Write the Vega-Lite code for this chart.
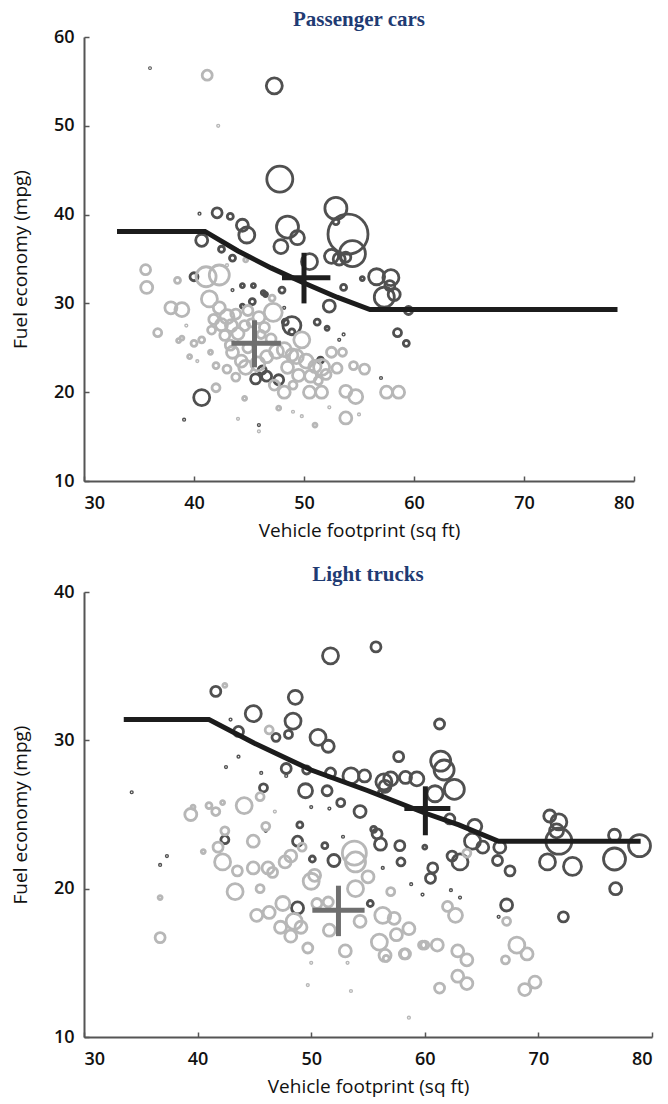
{
  "$schema": "https://vega.github.io/schema/vega-lite/v6.json",
  "background": "white",
  "padding": {"left": 11, "top": 9, "right": 4, "bottom": 4},
  "spacing": 24,
  "config": {
    "view": {"stroke": null},
    "axis": {
      "grid": false,
      "domainColor": "#555555",
      "domainWidth": 2,
      "tickColor": "#555555",
      "tickWidth": 1.5,
      "tickSize": -5,
      "labelFont": "Open Sans",
      "labelFontSize": 18,
      "labelFontWeight": 600,
      "labelColor": "#111111",
      "titleFont": "Open Sans",
      "titleFontSize": 19,
      "titleFontWeight": "normal",
      "titleColor": "#111111"
    },
    "axisX": {"labelPadding": 18, "titlePadding": 9},
    "axisY": {"labelPadding": 15, "titlePadding": 23},
    "title": {"font": "Liberation Serif", "fontSize": 21, "fontWeight": "bold", "color": "#1f3b73", "offset": -2}
  },
  "datasets": {
    "cars": [
      {"x":36.0,"y":56.5,"sales":0.3,"grp":"D"},{"x":47.3,"y":54.5,"sales":64,"grp":"D"},{"x":47.8,"y":44.0,"sales":169,"grp":"D"},
      {"x":42.1,"y":40.2,"sales":25,"grp":"D"},{"x":43.3,"y":39.8,"sales":9,"grp":"D"},{"x":40.5,"y":40.1,"sales":0.5,"grp":"D"},
      {"x":44.4,"y":38.8,"sales":36,"grp":"D"},{"x":44.8,"y":37.7,"sales":64,"grp":"D"},{"x":40.7,"y":37.1,"sales":36,"grp":"D"},
      {"x":42.5,"y":36.1,"sales":9,"grp":"D"},{"x":43.5,"y":35.1,"sales":9,"grp":"D"},{"x":48.5,"y":38.6,"sales":121,"grp":"D"},
      {"x":49.4,"y":37.4,"sales":49,"grp":"D"},{"x":47.9,"y":36.4,"sales":49,"grp":"D"},{"x":50.5,"y":34.7,"sales":64,"grp":"D"},
      {"x":40.0,"y":33.0,"sales":16,"grp":"D"},{"x":43.5,"y":31.5,"sales":0.5,"grp":"D"},{"x":44.4,"y":32.0,"sales":4,"grp":"D"},
      {"x":44.4,"y":29.7,"sales":4,"grp":"D"},{"x":45.4,"y":32.0,"sales":4,"grp":"D"},{"x":46.3,"y":31.2,"sales":4,"grp":"D"},
      {"x":45.3,"y":30.2,"sales":9,"grp":"D"},{"x":48.0,"y":31.5,"sales":9,"grp":"D"},{"x":46.5,"y":31.0,"sales":4,"grp":"D"},
      {"x":48.2,"y":29.5,"sales":0.5,"grp":"D"},{"x":48.9,"y":27.5,"sales":81,"grp":"D"},{"x":48.3,"y":27.9,"sales":9,"grp":"D"},
      {"x":48.9,"y":26.8,"sales":9,"grp":"D"},{"x":52.3,"y":29.7,"sales":36,"grp":"D"},{"x":51.2,"y":27.9,"sales":9,"grp":"D"},
      {"x":52.1,"y":27.2,"sales":4,"grp":"D"},{"x":53.2,"y":25.9,"sales":0.5,"grp":"D"},{"x":53.6,"y":26.5,"sales":0.5,"grp":"D"},
      {"x":58.5,"y":26.7,"sales":16,"grp":"D"},{"x":59.3,"y":25.5,"sales":9,"grp":"D"},{"x":59.5,"y":29.2,"sales":16,"grp":"D"},
      {"x":57.0,"y":21.6,"sales":0.5,"grp":"D"},{"x":40.7,"y":19.4,"sales":64,"grp":"D"},{"x":39.1,"y":16.9,"sales":0.5,"grp":"D"},
      {"x":45.9,"y":16.3,"sales":0.5,"grp":"D"},{"x":45.6,"y":21.5,"sales":25,"grp":"D"},{"x":46.6,"y":21.8,"sales":25,"grp":"D"},
      {"x":47.7,"y":21.4,"sales":25,"grp":"D"},{"x":51.5,"y":23.6,"sales":9,"grp":"D"},{"x":52.9,"y":40.7,"sales":121,"grp":"D"},
      {"x":52.9,"y":39.2,"sales":9,"grp":"D"},{"x":54.0,"y":37.8,"sales":400,"grp":"D"},{"x":54.4,"y":35.6,"sales":169,"grp":"D"},
      {"x":52.5,"y":35.3,"sales":49,"grp":"D"},{"x":53.2,"y":35.0,"sales":36,"grp":"D"},{"x":53.8,"y":35.2,"sales":25,"grp":"D"},
      {"x":56.6,"y":33.0,"sales":64,"grp":"D"},{"x":57.9,"y":32.9,"sales":64,"grp":"D"},{"x":57.8,"y":32.0,"sales":25,"grp":"D"},
      {"x":57.3,"y":30.7,"sales":100,"grp":"D"},{"x":58.2,"y":31.0,"sales":36,"grp":"D"},{"x":53.6,"y":31.8,"sales":9,"grp":"D"},
      {"x":55.3,"y":32.8,"sales":4,"grp":"D"},{"x":46.2,"y":22.5,"sales":16,"grp":"D"},
      {"x":41.2,"y":55.7,"sales":25,"grp":"L"},{"x":42.2,"y":50.0,"sales":0.5,"grp":"L"},{"x":35.6,"y":33.8,"sales":25,"grp":"L"},
      {"x":35.7,"y":31.8,"sales":36,"grp":"L"},{"x":38.5,"y":32.6,"sales":9,"grp":"L"},{"x":41.1,"y":33.0,"sales":100,"grp":"L"},
      {"x":42.3,"y":33.2,"sales":100,"grp":"L"},{"x":37.9,"y":29.5,"sales":36,"grp":"L"},{"x":38.9,"y":29.3,"sales":49,"grp":"L"},
      {"x":41.4,"y":30.5,"sales":64,"grp":"L"},{"x":36.7,"y":26.7,"sales":16,"grp":"L"},{"x":47.1,"y":30.6,"sales":9,"grp":"L"},
      {"x":47.2,"y":29.0,"sales":81,"grp":"L"},{"x":42.3,"y":29.5,"sales":36,"grp":"L"},{"x":43.0,"y":28.5,"sales":49,"grp":"L"},
      {"x":42.5,"y":27.6,"sales":36,"grp":"L"},{"x":43.4,"y":27.5,"sales":36,"grp":"L"},{"x":41.8,"y":28.2,"sales":25,"grp":"L"},
      {"x":43.8,"y":28.8,"sales":25,"grp":"L"},{"x":41.6,"y":27.0,"sales":16,"grp":"L"},{"x":42.8,"y":26.4,"sales":25,"grp":"L"},
      {"x":44.0,"y":26.6,"sales":36,"grp":"L"},{"x":44.6,"y":27.5,"sales":25,"grp":"L"},{"x":43.3,"y":25.3,"sales":25,"grp":"L"},
      {"x":40.7,"y":25.9,"sales":9,"grp":"L"},{"x":38.9,"y":26.1,"sales":4,"grp":"L"},{"x":40.0,"y":25.5,"sales":9,"grp":"L"},
      {"x":41.5,"y":24.5,"sales":4,"grp":"L"},{"x":40.3,"y":23.5,"sales":0.5,"grp":"L"},{"x":39.6,"y":24.0,"sales":4,"grp":"L"},
      {"x":43.5,"y":24.5,"sales":36,"grp":"L"},{"x":44.3,"y":23.5,"sales":36,"grp":"L"},{"x":43.8,"y":21.7,"sales":16,"grp":"L"},
      {"x":44.7,"y":22.8,"sales":49,"grp":"L"},{"x":45.8,"y":23.2,"sales":49,"grp":"L"},{"x":42.0,"y":20.5,"sales":16,"grp":"L"},
      {"x":46.6,"y":24.0,"sales":36,"grp":"L"},{"x":47.5,"y":24.6,"sales":49,"grp":"L"},{"x":48.2,"y":24.8,"sales":49,"grp":"L"},
      {"x":48.9,"y":24.2,"sales":36,"grp":"L"},{"x":49.8,"y":25.9,"sales":64,"grp":"L"},{"x":49.3,"y":24.0,"sales":49,"grp":"L"},
      {"x":50.2,"y":23.5,"sales":49,"grp":"L"},{"x":51.0,"y":22.9,"sales":36,"grp":"L"},{"x":51.6,"y":22.8,"sales":64,"grp":"L"},
      {"x":50.6,"y":21.8,"sales":36,"grp":"L"},{"x":52.0,"y":22.0,"sales":25,"grp":"L"},{"x":48.5,"y":22.8,"sales":36,"grp":"L"},
      {"x":49.5,"y":21.9,"sales":36,"grp":"L"},{"x":47.3,"y":20.8,"sales":25,"grp":"L"},{"x":46.1,"y":26.5,"sales":16,"grp":"L"},
      {"x":47.0,"y":26.0,"sales":25,"grp":"L"},{"x":45.2,"y":27.8,"sales":16,"grp":"L"},{"x":48.2,"y":20.0,"sales":36,"grp":"L"},
      {"x":50.5,"y":20.0,"sales":36,"grp":"L"},{"x":51.6,"y":20.0,"sales":36,"grp":"L"},{"x":53.8,"y":20.1,"sales":36,"grp":"L"},
      {"x":54.7,"y":19.5,"sales":49,"grp":"L"},{"x":57.5,"y":20.0,"sales":36,"grp":"L"},{"x":58.6,"y":20.0,"sales":36,"grp":"L"},
      {"x":52.5,"y":24.5,"sales":25,"grp":"L"},{"x":53.5,"y":24.5,"sales":16,"grp":"L"},{"x":54.5,"y":23.0,"sales":16,"grp":"L"},
      {"x":55.5,"y":22.6,"sales":25,"grp":"L"},{"x":53.0,"y":22.7,"sales":25,"grp":"L"},{"x":47.7,"y":18.2,"sales":4,"grp":"L"},
      {"x":49.0,"y":17.8,"sales":0.5,"grp":"L"},{"x":49.8,"y":17.3,"sales":0.5,"grp":"L"},{"x":53.8,"y":17.1,"sales":36,"grp":"L"},
      {"x":51.0,"y":16.3,"sales":4,"grp":"L"},{"x":52.3,"y":18.3,"sales":0.5,"grp":"L"},{"x":55.0,"y":17.5,"sales":0.5,"grp":"L"},
      {"x":45.9,"y":15.6,"sales":0.5,"grp":"L"},{"x":44.0,"y":17.0,"sales":0.5,"grp":"L"},{"x":38.6,"y":25.8,"sales":4,"grp":"L"},
      {"x":44.7,"y":34.9,"sales":4,"grp":"L"},{"x":43.0,"y":34.3,"sales":0.5,"grp":"L"},{"x":39.3,"y":27.5,"sales":0.5,"grp":"L"},
      {"x":44.9,"y":29.2,"sales":25,"grp":"L"},{"x":45.9,"y":28.4,"sales":36,"grp":"L"},{"x":46.4,"y":27.3,"sales":25,"grp":"L"},
      {"x":42.0,"y":23.0,"sales":9,"grp":"L"},{"x":43.0,"y":22.6,"sales":16,"grp":"L"},{"x":44.9,"y":25.0,"sales":25,"grp":"L"},
      {"x":49.0,"y":20.8,"sales":16,"grp":"L"},{"x":51.3,"y":21.3,"sales":16,"grp":"L"},{"x":44.6,"y":19.3,"sales":4,"grp":"L"}
    ],
    "trucks": [
      {"x":51.7,"y":35.7,"sales":64,"grp":"D"},{"x":55.7,"y":36.3,"sales":25,"grp":"D"},{"x":41.6,"y":33.3,"sales":25,"grp":"D"},
      {"x":44.9,"y":31.8,"sales":64,"grp":"D"},{"x":48.6,"y":32.9,"sales":49,"grp":"D"},{"x":48.4,"y":31.3,"sales":64,"grp":"D"},
      {"x":43.6,"y":30.6,"sales":25,"grp":"D"},{"x":42.9,"y":31.4,"sales":0.5,"grp":"D"},{"x":46.9,"y":30.2,"sales":16,"grp":"D"},
      {"x":48.0,"y":30.4,"sales":16,"grp":"D"},{"x":50.6,"y":30.2,"sales":64,"grp":"D"},{"x":51.5,"y":29.6,"sales":36,"grp":"D"},
      {"x":43.6,"y":28.9,"sales":0.5,"grp":"D"},{"x":42.5,"y":28.2,"sales":0.5,"grp":"D"},{"x":45.6,"y":27.8,"sales":0.5,"grp":"D"},
      {"x":47.8,"y":28.1,"sales":25,"grp":"D"},{"x":49.6,"y":28.0,"sales":16,"grp":"D"},{"x":51.7,"y":27.8,"sales":25,"grp":"D"},
      {"x":53.5,"y":27.6,"sales":64,"grp":"D"},{"x":54.7,"y":27.6,"sales":36,"grp":"D"},{"x":56.4,"y":27.2,"sales":64,"grp":"D"},
      {"x":49.5,"y":26.6,"sales":49,"grp":"D"},{"x":51.4,"y":26.6,"sales":25,"grp":"D"},{"x":52.6,"y":25.8,"sales":16,"grp":"D"},
      {"x":54.3,"y":25.2,"sales":36,"grp":"D"},{"x":45.8,"y":26.8,"sales":16,"grp":"D"},{"x":47.8,"y":27.6,"sales":0.5,"grp":"D"},
      {"x":51.6,"y":25.4,"sales":0.5,"grp":"D"},{"x":61.3,"y":31.1,"sales":25,"grp":"D"},{"x":57.7,"y":28.9,"sales":25,"grp":"D"},
      {"x":61.4,"y":28.6,"sales":100,"grp":"D"},{"x":61.7,"y":28.0,"sales":100,"grp":"D"},{"x":62.6,"y":26.7,"sales":100,"grp":"D"},
      {"x":60.9,"y":26.4,"sales":64,"grp":"D"},{"x":59.3,"y":27.4,"sales":49,"grp":"D"},{"x":58.3,"y":27.5,"sales":36,"grp":"D"},
      {"x":57.0,"y":27.4,"sales":49,"grp":"D"},{"x":56.5,"y":26.9,"sales":36,"grp":"D"},{"x":56.1,"y":26.5,"sales":4,"grp":"D"},
      {"x":56.1,"y":23.0,"sales":36,"grp":"D"},{"x":55.8,"y":23.7,"sales":25,"grp":"D"},{"x":57.8,"y":22.9,"sales":25,"grp":"D"},
      {"x":57.9,"y":21.8,"sales":16,"grp":"D"},{"x":56.3,"y":21.4,"sales":0.5,"grp":"D"},{"x":60.7,"y":21.4,"sales":25,"grp":"D"},
      {"x":60.5,"y":20.7,"sales":25,"grp":"D"},{"x":62.2,"y":24.7,"sales":25,"grp":"D"},{"x":64.4,"y":24.2,"sales":49,"grp":"D"},
      {"x":64.2,"y":23.2,"sales":64,"grp":"D"},{"x":65.1,"y":22.8,"sales":36,"grp":"D"},{"x":63.1,"y":21.8,"sales":64,"grp":"D"},
      {"x":62.4,"y":22.2,"sales":25,"grp":"D"},{"x":66.6,"y":22.8,"sales":36,"grp":"D"},{"x":66.4,"y":21.9,"sales":25,"grp":"D"},
      {"x":67.5,"y":21.2,"sales":25,"grp":"D"},{"x":62.3,"y":19.9,"sales":0.5,"grp":"D"},{"x":63.1,"y":19.4,"sales":0.5,"grp":"D"},
      {"x":71.0,"y":24.9,"sales":36,"grp":"D"},{"x":71.8,"y":24.5,"sales":64,"grp":"D"},{"x":71.6,"y":23.9,"sales":49,"grp":"D"},
      {"x":71.8,"y":23.2,"sales":169,"grp":"D"},{"x":70.8,"y":21.8,"sales":64,"grp":"D"},{"x":73.0,"y":21.5,"sales":81,"grp":"D"},
      {"x":76.7,"y":23.6,"sales":36,"grp":"D"},{"x":76.7,"y":22.0,"sales":121,"grp":"D"},{"x":78.9,"y":22.9,"sales":121,"grp":"D"},
      {"x":76.8,"y":20.0,"sales":36,"grp":"D"},{"x":67.2,"y":18.9,"sales":36,"grp":"D"},{"x":72.2,"y":18.1,"sales":25,"grp":"D"},
      {"x":66.5,"y":18.1,"sales":0.5,"grp":"D"},{"x":42.4,"y":23.3,"sales":16,"grp":"D"},{"x":48.8,"y":23.2,"sales":25,"grp":"D"},
      {"x":49.0,"y":24.3,"sales":9,"grp":"D"},{"x":48.8,"y":18.7,"sales":36,"grp":"D"},{"x":52.0,"y":21.9,"sales":36,"grp":"D"},
      {"x":55.2,"y":19.0,"sales":9,"grp":"D"},{"x":51.2,"y":22.9,"sales":9,"grp":"D"},{"x":50.1,"y":22.0,"sales":9,"grp":"D"},
      {"x":55.5,"y":24.0,"sales":9,"grp":"D"},{"x":37.3,"y":22.2,"sales":0.5,"grp":"D"},{"x":36.7,"y":21.6,"sales":0.5,"grp":"D"},
      {"x":46.0,"y":23.9,"sales":0.5,"grp":"D"},{"x":50.0,"y":25.5,"sales":0.5,"grp":"D"},{"x":52.8,"y":23.5,"sales":0.5,"grp":"D"},
      {"x":58.8,"y":20.3,"sales":0.5,"grp":"D"},{"x":59.8,"y":19.6,"sales":0.5,"grp":"D"},{"x":60.0,"y":22.8,"sales":4,"grp":"D"},
      {"x":34.2,"y":26.5,"sales":0.5,"grp":"D"},
      {"x":42.4,"y":33.7,"sales":4,"grp":"L"},{"x":46.3,"y":30.7,"sales":16,"grp":"L"},{"x":39.4,"y":25.0,"sales":36,"grp":"L"},
      {"x":42.2,"y":25.8,"sales":4,"grp":"L"},{"x":44.1,"y":25.6,"sales":64,"grp":"L"},{"x":41.6,"y":25.2,"sales":16,"grp":"L"},
      {"x":46.8,"y":25.2,"sales":0.5,"grp":"L"},{"x":45.5,"y":26.2,"sales":16,"grp":"L"},{"x":36.7,"y":16.7,"sales":25,"grp":"L"},
      {"x":36.7,"y":19.4,"sales":4,"grp":"L"},{"x":41.0,"y":25.6,"sales":9,"grp":"L"},{"x":42.4,"y":23.9,"sales":16,"grp":"L"},
      {"x":41.8,"y":22.8,"sales":25,"grp":"L"},{"x":42.2,"y":21.8,"sales":64,"grp":"L"},{"x":43.5,"y":21.2,"sales":25,"grp":"L"},
      {"x":43.3,"y":19.8,"sales":64,"grp":"L"},{"x":44.9,"y":23.2,"sales":36,"grp":"L"},{"x":46.0,"y":24.2,"sales":16,"grp":"L"},
      {"x":44.9,"y":21.4,"sales":36,"grp":"L"},{"x":46.2,"y":21.4,"sales":36,"grp":"L"},{"x":46.6,"y":21.1,"sales":25,"grp":"L"},
      {"x":47.7,"y":21.8,"sales":36,"grp":"L"},{"x":48.2,"y":22.2,"sales":36,"grp":"L"},{"x":45.5,"y":20.0,"sales":16,"grp":"L"},
      {"x":45.2,"y":18.2,"sales":36,"grp":"L"},{"x":46.3,"y":18.4,"sales":36,"grp":"L"},{"x":47.5,"y":19.0,"sales":49,"grp":"L"},
      {"x":47.3,"y":17.4,"sales":36,"grp":"L"},{"x":49.2,"y":22.8,"sales":16,"grp":"L"},{"x":50.0,"y":20.5,"sales":64,"grp":"L"},
      {"x":50.3,"y":20.9,"sales":36,"grp":"L"},{"x":50.5,"y":19.0,"sales":25,"grp":"L"},{"x":51.5,"y":19.1,"sales":25,"grp":"L"},
      {"x":53.9,"y":21.8,"sales":100,"grp":"L"},{"x":53.8,"y":22.4,"sales":144,"grp":"L"},{"x":53.9,"y":20.0,"sales":64,"grp":"L"},
      {"x":55.0,"y":20.8,"sales":36,"grp":"L"},{"x":48.5,"y":17.8,"sales":64,"grp":"L"},{"x":49.1,"y":17.4,"sales":36,"grp":"L"},
      {"x":48.2,"y":16.8,"sales":36,"grp":"L"},{"x":49.7,"y":16.0,"sales":25,"grp":"L"},{"x":51.6,"y":17.2,"sales":36,"grp":"L"},
      {"x":54.3,"y":17.8,"sales":36,"grp":"L"},{"x":56.3,"y":18.2,"sales":64,"grp":"L"},{"x":57.3,"y":18.0,"sales":36,"grp":"L"},
      {"x":57.5,"y":16.9,"sales":36,"grp":"L"},{"x":58.6,"y":17.3,"sales":36,"grp":"L"},{"x":56.0,"y":16.4,"sales":64,"grp":"L"},
      {"x":56.5,"y":15.5,"sales":36,"grp":"L"},{"x":58.2,"y":15.6,"sales":25,"grp":"L"},{"x":60.0,"y":16.2,"sales":16,"grp":"L"},
      {"x":53.0,"y":15.8,"sales":36,"grp":"L"},{"x":53.2,"y":15.0,"sales":0.5,"grp":"L"},{"x":50.0,"y":15.0,"sales":0.5,"grp":"L"},
      {"x":53.5,"y":13.1,"sales":0.5,"grp":"L"},{"x":49.7,"y":13.5,"sales":0.5,"grp":"L"},{"x":57.0,"y":19.8,"sales":16,"grp":"L"},
      {"x":62.7,"y":18.2,"sales":49,"grp":"L"},{"x":62.0,"y":18.8,"sales":25,"grp":"L"},{"x":68.1,"y":16.2,"sales":64,"grp":"L"},
      {"x":69.0,"y":15.6,"sales":36,"grp":"L"},{"x":67.1,"y":15.2,"sales":16,"grp":"L"},{"x":69.7,"y":13.7,"sales":36,"grp":"L"},
      {"x":68.8,"y":13.2,"sales":36,"grp":"L"},{"x":62.9,"y":15.8,"sales":36,"grp":"L"},{"x":63.7,"y":15.2,"sales":36,"grp":"L"},
      {"x":62.9,"y":14.1,"sales":36,"grp":"L"},{"x":63.7,"y":13.6,"sales":36,"grp":"L"},{"x":61.3,"y":13.3,"sales":25,"grp":"L"},
      {"x":59.8,"y":16.2,"sales":16,"grp":"L"},{"x":61.1,"y":16.2,"sales":36,"grp":"L"},{"x":58.3,"y":15.6,"sales":25,"grp":"L"},
      {"x":56.6,"y":15.3,"sales":9,"grp":"L"},{"x":67.2,"y":17.8,"sales":16,"grp":"L"},{"x":63.7,"y":22.4,"sales":16,"grp":"L"},
      {"x":39.6,"y":25.5,"sales":4,"grp":"L"},{"x":40.5,"y":22.5,"sales":4,"grp":"L"},{"x":58.6,"y":11.3,"sales":0.5,"grp":"L"}
    ],
    "cars_target": [
      {"x":33.0,"y":38.1},{"x":41.0,"y":38.1},{"x":44.0,"y":35.9},{"x":47.0,"y":34.0},{"x":50.0,"y":32.3},{"x":53.0,"y":30.7},{"x":56.0,"y":29.3},{"x":78.5,"y":29.3}
    ],
    "trucks_target": [
      {"x":33.5,"y":31.4},{"x":41.0,"y":31.4},{"x":45.0,"y":29.8},{"x":50.0,"y":28.0},{"x":55.0,"y":26.6},{"x":60.0,"y":25.1},{"x":63.0,"y":24.3},{"x":66.5,"y":23.2},{"x":79.0,"y":23.2}
    ],
    "cars_avg": [
      {"fleet":"current","x":45.5,"y":25.5,"xlo":43.4,"xhi":47.9,"ylo":22.8,"yhi":28.1},
      {"fleet":"target","x":50.0,"y":32.9,"xlo":48.0,"xhi":52.4,"ylo":30.0,"yhi":35.7}
    ],
    "trucks_avg": [
      {"fleet":"current","x":52.4,"y":18.55,"xlo":50.1,"xhi":54.7,"ylo":16.8,"yhi":20.2},
      {"fleet":"target","x":60.05,"y":25.4,"xlo":58.2,"xhi":62.25,"ylo":23.6,"yhi":26.9}
    ]
  },
  "vconcat": [
    {
      "title": "Passenger cars",
      "width": 550,
      "height": 444,
      "layer": [
        {
          "data": {"name": "cars"},
          "mark": {"type": "point", "shape": "circle", "filled": false, "strokeWidth": 2.8, "opacity": 1},
          "encoding": {
            "x": {"field": "x", "type": "quantitative", "scale": {"domain": [30, 80]}, "axis": {"values": [30,40,50,60,70,80], "title": "Vehicle footprint (sq ft)"}},
            "y": {"field": "y", "type": "quantitative", "scale": {"domain": [10, 60]}, "axis": {"values": [10,20,30,40,50,60], "title": "Fuel economy (mpg)"}},
            "size": {"field": "sales", "type": "quantitative", "scale": {"type": "linear", "domain": [0, 400], "range": [0, 1600], "zero": true}, "legend": null},
            "color": {"field": "grp", "type": "nominal", "scale": {"domain": ["D", "L", "current", "target"], "range": ["#505050", "#b7b7b7", "#6f6f6f", "#1e1e1e"]}, "legend": null}
          }
        },
        {
          "data": {"name": "cars_target"},
          "mark": {"type": "line", "color": "#1c1c1c", "strokeWidth": 5},
          "encoding": {
            "x": {"field": "x", "type": "quantitative"},
            "y": {"field": "y", "type": "quantitative"}
          }
        },
        {
          "data": {"name": "cars_avg"},
          "mark": {"type": "rule", "strokeWidth": 5},
          "encoding": {
            "x": {"field": "xlo", "type": "quantitative"},
            "x2": {"field": "xhi"},
            "y": {"field": "y", "type": "quantitative"},
            "color": {"field": "fleet", "type": "nominal", "legend": null}
          }
        },
        {
          "data": {"name": "cars_avg"},
          "mark": {"type": "rule", "strokeWidth": 5},
          "encoding": {
            "x": {"field": "x", "type": "quantitative"},
            "y": {"field": "ylo", "type": "quantitative"},
            "y2": {"field": "yhi"},
            "color": {"field": "fleet", "type": "nominal", "legend": null}
          }
        }
      ]
    },
    {
      "title": "Light trucks",
      "width": 568,
      "height": 445,
      "layer": [
        {
          "data": {"name": "trucks"},
          "mark": {"type": "point", "shape": "circle", "filled": false, "strokeWidth": 2.8, "opacity": 1},
          "encoding": {
            "x": {"field": "x", "type": "quantitative", "scale": {"domain": [30, 80]}, "axis": {"values": [30,40,50,60,70,80], "title": "Vehicle footprint (sq ft)"}},
            "y": {"field": "y", "type": "quantitative", "scale": {"domain": [10, 40]}, "axis": {"values": [10,20,30,40], "title": "Fuel economy (mpg)"}},
            "size": {"field": "sales", "type": "quantitative", "scale": {"type": "linear", "domain": [0, 400], "range": [0, 1600], "zero": true}, "legend": null},
            "color": {"field": "grp", "type": "nominal", "scale": {"domain": ["D", "L", "current", "target"], "range": ["#505050", "#b7b7b7", "#6f6f6f", "#1e1e1e"]}, "legend": null}
          }
        },
        {
          "data": {"name": "trucks_target"},
          "mark": {"type": "line", "color": "#1c1c1c", "strokeWidth": 5},
          "encoding": {
            "x": {"field": "x", "type": "quantitative"},
            "y": {"field": "y", "type": "quantitative"}
          }
        },
        {
          "data": {"name": "trucks_avg"},
          "mark": {"type": "rule", "strokeWidth": 5},
          "encoding": {
            "x": {"field": "xlo", "type": "quantitative"},
            "x2": {"field": "xhi"},
            "y": {"field": "y", "type": "quantitative"},
            "color": {"field": "fleet", "type": "nominal", "legend": null}
          }
        },
        {
          "data": {"name": "trucks_avg"},
          "mark": {"type": "rule", "strokeWidth": 5},
          "encoding": {
            "x": {"field": "x", "type": "quantitative"},
            "y": {"field": "ylo", "type": "quantitative"},
            "y2": {"field": "yhi"},
            "color": {"field": "fleet", "type": "nominal", "legend": null}
          }
        }
      ]
    }
  ]
}
